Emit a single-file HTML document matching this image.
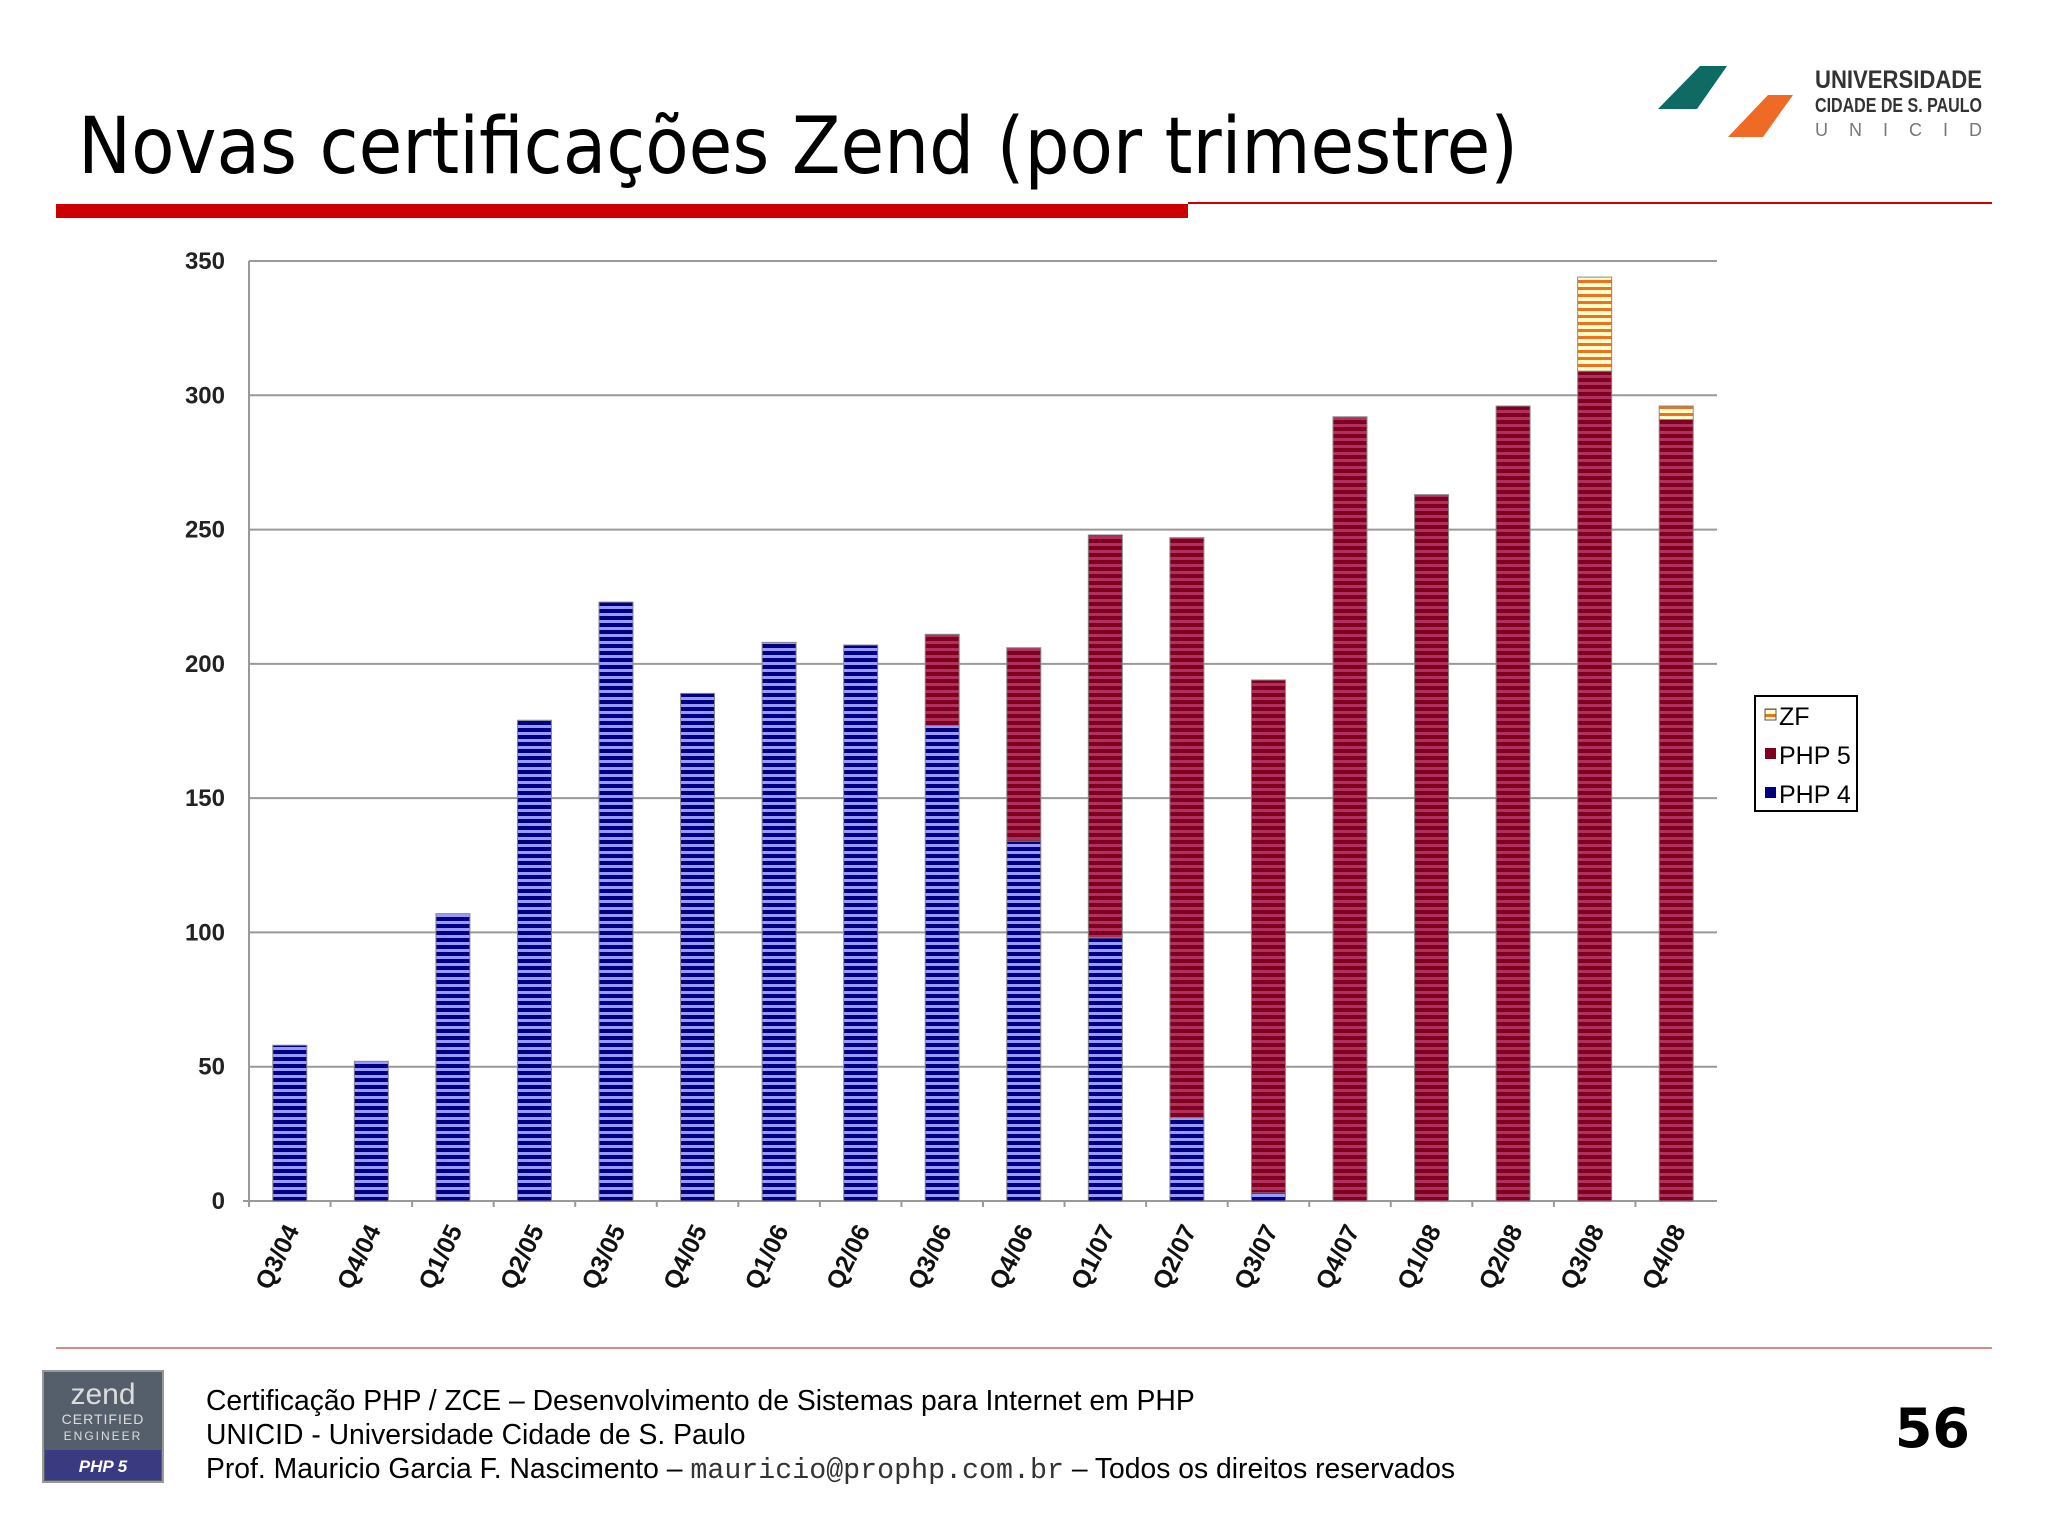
<!DOCTYPE html>
<html><head><meta charset="utf-8"><style>
body{margin:0;background:#fff;}
svg{display:block;font-family:"Liberation Sans",sans-serif;}
</style></head><body>
<svg width="2048" height="1536" viewBox="0 0 2048 1536">
<defs>
<pattern id="pBlue" width="10" height="7" patternUnits="userSpaceOnUse"><rect width="10" height="7" fill="#9999ff"/><rect width="10" height="4" fill="#000080"/></pattern>
<pattern id="pRed" width="10" height="7" patternUnits="userSpaceOnUse"><rect width="10" height="7" fill="#b03060"/><rect width="10" height="4" fill="#800020"/></pattern>
<pattern id="pOr" width="10" height="7" patternUnits="userSpaceOnUse"><rect width="10" height="7" fill="#ffffcc"/><rect width="10" height="3" fill="#f07020"/></pattern>
</defs>
<text x="78" y="173" font-family="DejaVu Sans, sans-serif" font-size="78" fill="#000" textLength="1440" lengthAdjust="spacingAndGlyphs">Novas certificações Zend (por trimestre)</text>
<rect x="56" y="204" width="1132" height="14" fill="#cc0000"/>
<rect x="1188" y="202" width="804" height="2" fill="#cc0000"/>
<g>
<polygon points="1700,66 1727,66 1697,109 1658,109" fill="#0e6b63"/>
<polygon points="1768,95 1793,95 1763,137 1728,137" fill="#ee6a25"/>
<text x="1815" y="88" font-size="25" font-weight="bold" fill="#333" textLength="167" lengthAdjust="spacingAndGlyphs">UNIVERSIDADE</text>
<text x="1815" y="112" font-size="20" font-weight="bold" fill="#333" textLength="167" lengthAdjust="spacingAndGlyphs">CIDADE DE S. PAULO</text>
<text x="1815" y="136" font-size="18" fill="#777" textLength="167" lengthAdjust="spacing">UNICID</text>
</g>
<g id="chart"></g>
<g>
<rect x="1755" y="696" width="102" height="115" fill="#fff" stroke="#000" stroke-width="2"/>
<rect x="1765" y="709" width="11" height="11" fill="url(#pOr)" stroke="#555"/><text x="1779" y="725" font-size="25" fill="#000">ZF</text>
<rect x="1765" y="748" width="11" height="11" fill="#800020"/><text x="1779" y="764" font-size="25" fill="#000">PHP 5</text>
<rect x="1765" y="787" width="11" height="11" fill="#000080"/><text x="1779" y="803" font-size="25" fill="#000">PHP 4</text>
</g>
<rect x="56" y="1347" width="1936" height="2" fill="#dd8888"/>
<g>
<rect x="43" y="1371" width="120" height="111" fill="#555f6c" stroke="#999" stroke-width="2"/>
<rect x="45" y="1450" width="116" height="30" fill="#3a3a80"/>
<text x="103" y="1404" font-size="30" fill="#ddd" text-anchor="middle">zend</text>
<text x="103" y="1424" font-size="14" fill="#ddd" text-anchor="middle" letter-spacing="1">CERTIFIED</text>
<text x="103" y="1440" font-size="12" fill="#ddd" text-anchor="middle" letter-spacing="2">ENGINEER</text>
<text x="103" y="1472" font-size="17" font-weight="bold" font-style="italic" fill="#fff" text-anchor="middle">PHP 5</text>
</g>
<g font-size="28.3" fill="#000">
<text x="206" y="1410">Certificação PHP / ZCE – Desenvolvimento de Sistemas para Internet em PHP</text>
<text x="206" y="1444">UNICID - Universidade Cidade de S. Paulo</text>
<text x="206" y="1478">Prof. Mauricio Garcia F. Nascimento – <tspan font-family="Liberation Mono, monospace" fill="#333">mauricio@prophp.com.br</tspan>  –  Todos os direitos reservados</text>
</g>
<text x="1970" y="1447" font-size="54" font-weight="bold" text-anchor="end" font-family="DejaVu Sans, sans-serif">56</text>
</svg>
<script>
const categories=["Q3/04","Q4/04","Q1/05","Q2/05","Q3/05","Q4/05","Q1/06","Q2/06","Q3/06","Q4/06","Q1/07","Q2/07","Q3/07","Q4/07","Q1/08","Q2/08","Q3/08","Q4/08"];
const php4=[58,52,107,179,223,189,208,207,177,134,98,31,3,0,0,0,0,0];
const php5=[0,0,0,0,0,0,0,0,34,72,150,216,191,292,263,296,309,291];
const zf=[0,0,0,0,0,0,0,0,0,0,0,0,0,0,0,0,35,5];
const yTicks=[0,50,100,150,200,250,300,350];
const NS="http://www.w3.org/2000/svg";
const g=document.getElementById('chart');
const X0=249,X1=1717,Y0=1201,Y1=261,YMAX=350;
const y=v=>Y0-(v/YMAX)*(Y0-Y1);
const bw=(X1-X0)/categories.length;
const xc=i=>X0+bw*(i+0.5);
function mk(t,a){const e=document.createElementNS(NS,t);for(const k in a)e.setAttribute(k,a[k]);g.appendChild(e);return e;}
yTicks.forEach(t=>{
 if(t>0){const l=mk('line',{x1:X0,x2:X1,y1:y(t),y2:y(t),stroke:'#999','stroke-width':2});
 
 }
 const tx=mk('text',{x:225,y:y(t)+8,'text-anchor':'end','font-size':24,'font-weight':'bold',fill:'#222'});
 tx.textContent=t;
 
 
});
const ax=mk('line',{x1:X0,x2:X0,y1:Y1,y2:Y0+6,stroke:'#999','stroke-width':2});


const bx=mk('line',{x1:X0-6,x2:X1,y1:Y0,y2:Y0,stroke:'#999','stroke-width':2});


categories.forEach((c,i)=>{
 const tk=mk('line',{x1:X0+bw*i,x2:X0+bw*i,y1:Y0,y2:Y0+6,stroke:'#999','stroke-width':2});
 
 
 const w=34,x=xc(i)-w/2;
 let base=0;
 [[php4,'url(#pBlue)','bar-php4'],[php5,'url(#pRed)','bar-php5'],[zf,'url(#pOr)','bar-zf']].forEach(([arr,fill,name])=>{
  const v=arr[i];if(v<=0)return;
  const r=mk('rect',{x:x,y:y(base+v),width:w,height:y(base)-y(base+v),fill:fill,stroke:'#888','stroke-width':1});
  
  
  base+=v;
 });
 const px=xc(i)+10,py=1230;
 const t=mk('text',{x:px,y:py,'text-anchor':'end','font-size':25,'font-weight':'bold',fill:'#111',transform:`rotate(-64 ${px} ${py})`});
 t.textContent=c;
 
 
});
</script>
</body></html>
